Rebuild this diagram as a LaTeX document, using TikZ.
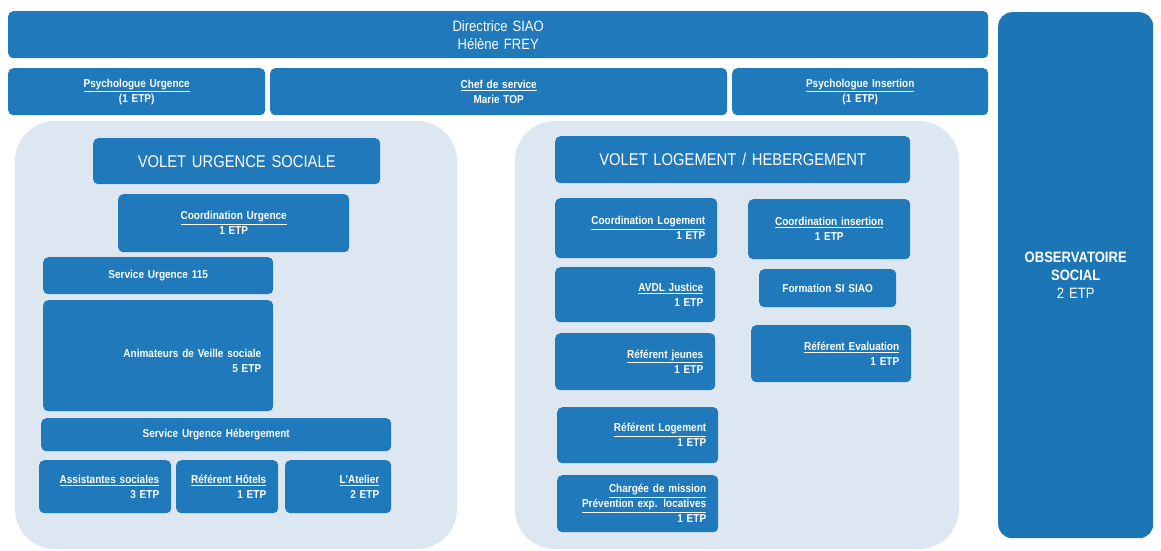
\documentclass[tikz,border=0pt]{standalone}
\usepackage{fontspec}
\setmainfont{Liberation Sans}[FakeStretch=0.87]
\definecolor{boxblue}{RGB}{31,121,187}
\definecolor{obsblue}{RGB}{28,118,182}
\definecolor{panelbg}{RGB}{221,231,241}
\newcommand\bx{\fontsize{11.5}{15}\selectfont\bfseries}
\newcommand\ttl{\fontsize{17}{20}\selectfont}
\newcommand\dirf{\fontsize{15}{18}\selectfont}
\tikzset{
  box/.style={fill=boxblue, rounded corners=5pt, text=white, inner xsep=12pt, inner ysep=0pt, anchor=north west, font=\bx, align=center},
  rbox/.style={box, align=right},
  panelbox/.style={fill=panelbg, rounded corners=40pt},
}
\begin{document}
\begin{tikzpicture}[x=1pt,y=-1pt]
\useasboundingbox (0,0) rectangle (1161,550);
\fill[white] (0,0) rectangle (1161,550);
% panels
\fill[panelbox] (15,121) rectangle (457,549);
\fill[panelbox] (515,121) rectangle (959,549);
% top
\node[box, font=\dirf, text width=956pt, minimum height=47pt] (dir) at (8,11) {Directrice SIAO\\Hélène FREY};
\node[box, text width=233pt, minimum height=47pt] (psyU) at (8,68) {\underline{Psychologue Urgence}\\(1 ETP)};
\node[box, text width=433pt, minimum height=47pt] (chef) at (270,68) {\underline{Chef de service}\\Marie TOP};
\node[box, text width=232pt, minimum height=47pt] (psyI) at (732,68) {\underline{Psychologue Insertion}\\(1 ETP)};
\node[box, fill=obsblue, rounded corners=14pt, font=\fontsize{15}{18}\selectfont\bfseries, text width=131pt, minimum height=526pt] (obs) at (998,12) {OBSERVATOIRE\\SOCIAL\\{\mdseries 2 ETP}};
% left panel
\node[box, font=\ttl, text width=263pt, minimum height=46pt] (vus) at (93,138) {VOLET URGENCE SOCIALE};
\node[box, text width=207pt, minimum height=58pt] (cu) at (118,194) {\underline{Coordination Urgence}\\1 ETP};
\node[box, text width=206pt, minimum height=37pt] (s115) at (43,257) {Service Urgence 115};
\node[rbox, text width=206pt, minimum height=111pt] (anim) at (43,300) {\mbox{}\\[3pt]Animateurs de Veille sociale\\5 ETP};
\node[box, text width=326pt, minimum height=33pt] (suh) at (41,418) {Service Urgence Hébergement};
\node[rbox, text width=108pt, minimum height=53pt] (ass) at (39,460) {\underline{Assistantes sociales}\\3 ETP};
\node[rbox, text width=78pt, minimum height=53pt] (hot) at (176,460) {\underline{Référent Hôtels}\\1 ETP};
\node[rbox, text width=82pt, minimum height=53pt] (atel) at (285,460) {\underline{L'Atelier}\\2 ETP};
% right panel
\node[box, font=\ttl, text width=331pt, minimum height=47pt] (vlh) at (555,136) {VOLET LOGEMENT / HEBERGEMENT};
\node[rbox, text width=138pt, minimum height=60pt] (cl) at (555,198) {\underline{Coordination Logement}\\1 ETP};
\node[box, text width=138pt, minimum height=60pt] (ci) at (748,199) {\underline{Coordination insertion}\\1 ETP};
\node[rbox, text width=136pt, minimum height=55pt] (avdl) at (555,267) {\underline{AVDL Justice}\\1 ETP};
\node[box, text width=113pt, minimum height=38pt] (form) at (759,269) {Formation SI SIAO};
\node[rbox, text width=136pt, minimum height=57pt] (rj) at (555,333) {\underline{Référent jeunes}\\1 ETP};
\node[rbox, text width=136pt, minimum height=57pt] (re) at (751,325) {\underline{Référent Evaluation}\\1 ETP};
\node[rbox, text width=137pt, minimum height=56pt] (rl) at (557,407) {\underline{Référent Logement}\\1 ETP};
\node[rbox, text width=137pt, minimum height=57pt] (cm) at (557,475) {\underline{Chargée de mission}\\\underline{Prévention exp. locatives}\\1 ETP};
\end{tikzpicture}
\end{document}
